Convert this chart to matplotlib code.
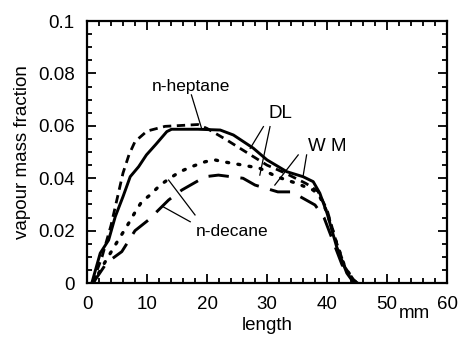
import matplotlib
matplotlib.use("Agg")
import matplotlib.pyplot as plt
from matplotlib.ticker import MultipleLocator

plt.rcParams["font.family"] = ["Liberation Sans", "DejaVu Sans"]

# n-heptane, solid
hep_solid_x = [0.8, 2.2, 3.6, 4.7, 6.0, 7.2, 8.6, 9.9, 11.5, 13.3, 14.1, 18.5, 22.2, 24.4,
               27.7, 30.0, 33.3, 36.0, 37.7, 38.8, 40.0, 41.6, 43.3, 44.4, 45.0]
hep_solid_y = [0.0, 0.0114, 0.0164, 0.0253, 0.033, 0.0406, 0.0444, 0.0489, 0.053, 0.0578, 0.0587,
               0.0587, 0.0584, 0.0565, 0.0515, 0.047, 0.0425, 0.0406, 0.0387, 0.0343, 0.0267,
               0.0139, 0.0038, 0.0003, 0.0]
# n-heptane, dashed
hep_dash_x = [0.9, 2.5, 4.0, 5.0, 6.0, 7.0, 8.0, 10.0, 13.0, 18.5, 20.0, 23.0, 26.5, 30.0,
              33.0, 36.5, 38.5, 40.0, 41.5, 43.0, 44.5, 45.0]
hep_dash_y = [0.0, 0.010, 0.022, 0.032, 0.042, 0.049, 0.054, 0.058, 0.0598, 0.0605, 0.059,
              0.055, 0.050, 0.045, 0.042, 0.038, 0.035, 0.028, 0.016, 0.006, 0.001, 0.0]
# n-decane, dotted
dec_dot_x = [1.0, 3.0, 5.2, 6.6, 8.0, 9.1, 10.5, 12.2, 13.8, 15.5, 17.4, 19.7, 21.3, 22.7,
             26.0, 28.8, 31.6, 35.0, 37.7, 38.8, 40.0, 41.5, 43.0, 44.5, 45.0]
dec_dot_y = [0.0, 0.008, 0.0164, 0.0215, 0.027, 0.031, 0.0336, 0.0374, 0.040, 0.0425, 0.0444,
             0.0463, 0.047, 0.0463, 0.045, 0.0438, 0.0406, 0.038, 0.0355, 0.033, 0.027, 0.016,
             0.006, 0.001, 0.0]
# n-decane, long dash
dec_ldash_x = [1.0, 3.3, 5.8, 8.0, 10.2, 13.6, 15.8, 19.7, 21.9, 26.0, 28.0, 31.8, 34.1,
               38.0, 39.5, 41.0, 42.5, 44.0, 45.0]
dec_ldash_y = [0.0, 0.0078, 0.012, 0.020, 0.024, 0.0317, 0.0355, 0.0406, 0.0412, 0.040,
               0.0374, 0.0348, 0.0348, 0.0298, 0.025, 0.016, 0.007, 0.002, 0.0]

x_ticks = [0, 10, 20, 30, 40, 50, 60]
y_ticks = [0, 0.02, 0.04, 0.06, 0.08, 0.1]
y_tick_labels = ["0", "0.02", "0.04", "0.06", "0.08", "0.1"]

fig = plt.figure(figsize=(4.58, 3.39), dpi=100)
ax = fig.add_axes([0.19, 0.165, 0.786, 0.773])

ax.plot(hep_solid_x, hep_solid_y, color="black", lw=2.1)
ax.plot(hep_dash_x, hep_dash_y, color="black", lw=2.0, linestyle=(0, (3.0, 2.0)))
ax.plot(dec_dot_x, dec_dot_y, color="black", lw=2.4, linestyle=(0, (0.6, 2.8)),
        dash_capstyle="round")
ax.plot(dec_ldash_x, dec_ldash_y, color="black", lw=2.1, linestyle=(0, (7, 4)))

# labels with pointer lines
ax.text(17.3, 0.0752, "n-heptane", ha="center", va="center", fontsize=12.5)
ax.plot([17.4, 19.1], [0.0718, 0.059], color="black", lw=0.9)

ax.text(32.3, 0.0647, "DL", ha="center", va="center", fontsize=13.5)
ax.plot([29.4, 27.2], [0.0597, 0.0514], color="black", lw=0.9)
ax.plot([30.5, 28.8], [0.0597, 0.0412], color="black", lw=0.9)

ax.text(40.1, 0.0523, "W M", ha="center", va="center", fontsize=13.5)
ax.plot([35.2, 31.3], [0.0489, 0.0374], color="black", lw=0.9)
ax.plot([36.6, 36.0], [0.0489, 0.0406], color="black", lw=0.9)

ax.text(24.1, 0.0198, "n-decane", ha="center", va="center", fontsize=12.5)
ax.plot([17.2, 12.7], [0.0234, 0.0291], color="black", lw=0.9)
ax.plot([18.0, 13.6], [0.026, 0.0393], color="black", lw=0.9)

ax.set_xlim(0, 60)
ax.set_ylim(0, 0.1)
ax.set_xticks(x_ticks)
ax.set_yticks(y_ticks)
ax.set_yticklabels(y_tick_labels)
ax.xaxis.set_minor_locator(MultipleLocator(2))
ax.yaxis.set_minor_locator(MultipleLocator(0.005))
ax.tick_params(which="both", direction="in", top=True, right=True, labelsize=13.5, width=1.3)
ax.tick_params(which="major", length=6.5, pad=9)
ax.tick_params(which="minor", length=3.5)
for s in ax.spines.values():
    s.set_linewidth(1.6)

ax.set_ylabel("vapour mass fraction", fontsize=13.5, labelpad=5)
ax.set_xlabel("length", fontsize=13.5, labelpad=3)
ax.text(54.5, -0.0118, "mm", ha="center", va="center", fontsize=13.5)

fig.savefig("out.png", dpi=100)
